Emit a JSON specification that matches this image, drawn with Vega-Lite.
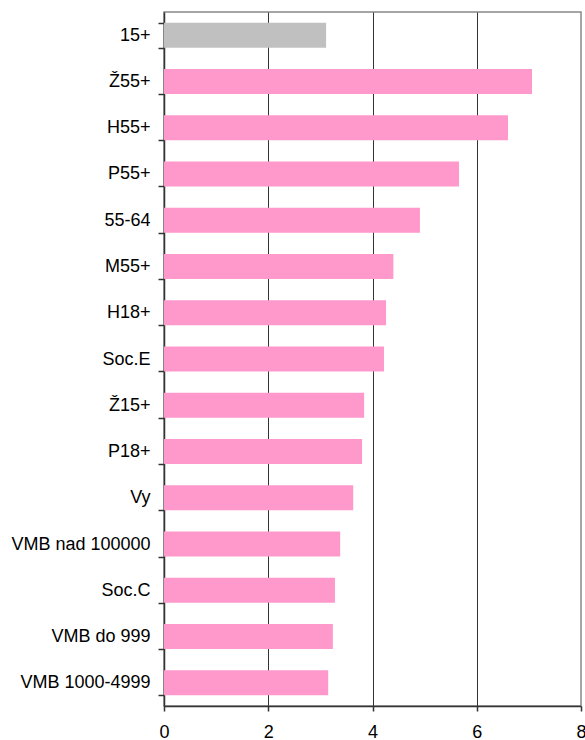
{
  "$schema": "https://vega.github.io/schema/vega-lite/v6.json",
  "autosize": "none",
  "width": 417,
  "height": 694,
  "padding": {"left": 164, "top": 12, "right": 4, "bottom": 34},
  "background": "white",
  "config": {
    "font": "Liberation Sans",
    "view": {"stroke": "#888888", "strokeWidth": 1.5}
  },
  "data": {
    "values": [
      {"group": "15+", "value": 3.11, "kind": "total"},
      {"group": "Ž55+", "value": 7.06, "kind": "seg"},
      {"group": "H55+", "value": 6.6, "kind": "seg"},
      {"group": "P55+", "value": 5.66, "kind": "seg"},
      {"group": "55-64", "value": 4.91, "kind": "seg"},
      {"group": "M55+", "value": 4.4, "kind": "seg"},
      {"group": "H18+", "value": 4.26, "kind": "seg"},
      {"group": "Soc.E", "value": 4.22, "kind": "seg"},
      {"group": "Ž15+", "value": 3.84, "kind": "seg"},
      {"group": "P18+", "value": 3.8, "kind": "seg"},
      {"group": "Vy", "value": 3.63, "kind": "seg"},
      {"group": "VMB nad 100000", "value": 3.38, "kind": "seg"},
      {"group": "Soc.C", "value": 3.28, "kind": "seg"},
      {"group": "VMB do 999", "value": 3.24, "kind": "seg"},
      {"group": "VMB 1000-4999", "value": 3.15, "kind": "seg"}
    ]
  },
  "mark": {"type": "bar"},
  "encoding": {
    "color": {"field": "kind", "type": "nominal", "legend": null,
              "scale": {"domain": ["total", "seg"], "range": ["#C0C0C0", "#FF99CC"]}},
    "x": {"field": "value", "type": "quantitative",
          "scale": {"domain": [0, 8], "nice": false},
          "axis": {"title": null, "values": [0, 2, 4, 6, 8], "grid": true,
                   "gridColor": {"condition": {"test": "datum.value == 8 || datum.value == 0", "value": "transparent"}, "value": "#333333"},
                   "gridWidth": 1, "domainColor": "#333333", "domainWidth": 1.5,
                   "tickColor": "#333333", "tickSize": 5, "tickWidth": 1.5,
                   "labelFlush": false, "labelOverlap": false,
                   "labelFontSize": 18, "labelColor": "black", "labelPadding": 12,
                   "labelFont": "Liberation Sans"}},
    "y": {"field": "group", "type": "nominal", "sort": null,
          "scale": {"paddingInner": 0.46, "paddingOuter": 0.23},
          "axis": {"title": null, "ticks": true, "tickBand": "extent", "tickSize": 6,
                   "tickColor": "#333333", "tickWidth": 1.5,
                   "domainColor": "#333333", "domainWidth": 1.5,
                   "labelFontSize": 18, "labelColor": "black", "labelPadding": 8,
                   "labelFont": "Liberation Sans"}}
  }
}
